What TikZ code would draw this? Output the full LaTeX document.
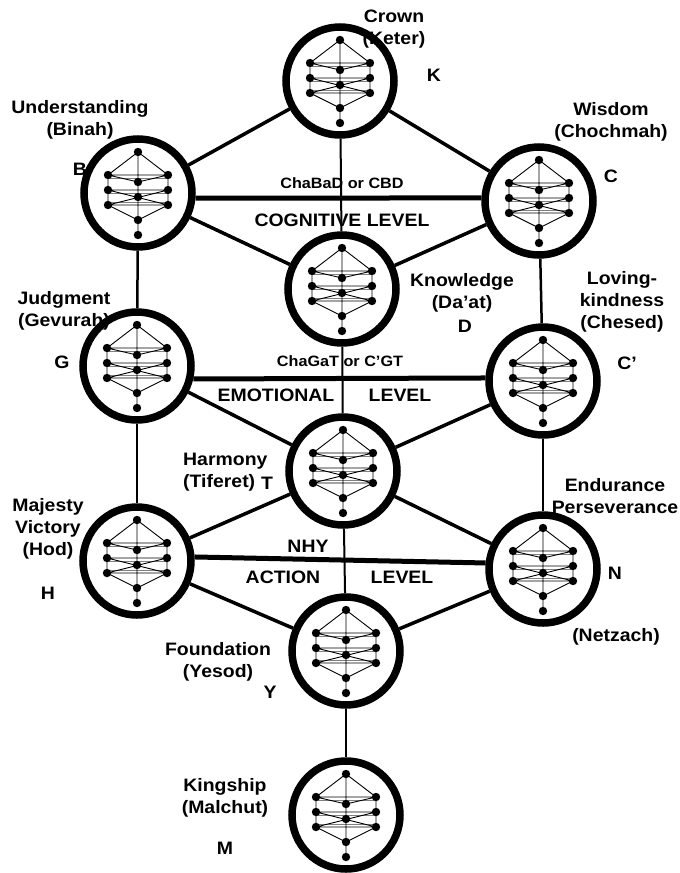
\documentclass[tikz,border=0pt]{standalone}
\usepackage{fontspec}
\setmainfont{Liberation Sans}[FakeStretch=1.08]

\tikzset{
  sefira/.style={circle, draw, line width=7.5pt, minimum size=108pt, inner sep=0pt},
  lbl/.style={font=\bfseries\fontsize{18}{22}\selectfont, align=center, inner sep=0pt},
  midlbl/.style={font=\bfseries\fontsize{15}{18}\selectfont, inner sep=0pt},
  level/.style={line width=5pt},
  channel/.style={line width=3.5pt},
  pillar/.style={line width=2.5pt},
  spine/.style={line width=2pt},
  minitree/.pic={
    \draw[line width=0.8pt, gray] (-30,-15) -- (30,-15) (-30,0) -- (30,0) (-30,9) -- (30,9);
    \draw[line width=0.9pt] (0,-41) -- (0,42)
      (0,-41) -- (-30,-18) -- (-30,12) -- (0,27) -- (30,12) -- (30,-18) -- cycle
      (-30,-18) -- (30,-18) (-30,-3) -- (30,-3) (-30,12) -- (30,12)
      (-30,-18) -- (0,-11) -- (30,-18)
      (-30,-3) -- (30,12) (30,-3) -- (-30,12);
    \foreach \p in {(0,-41),(-30,-18),(30,-18),(0,-11),(-30,-3),(30,-3),(0,4),(-30,12),(30,12),(0,27),(0,42)}
      \fill \p circle (4.2pt);
  }
}

\begin{document}
\begin{tikzpicture}[x=1pt,y=-1pt]
  \useasboundingbox (0,0) rectangle (680,873);
  % the ten (and Da'at)
  \node[sefira] at (340,81) (k) {};
  \node[sefira] at (138,193) (b) {};
  \node[sefira] at (539,201) (c) {};
  \node[sefira] at (342,289) (d) {};
  \node[sefira] at (137,366) (g) {};
  \node[sefira] at (543,381) (cp) {};
  \node[sefira] at (343,471) (t) {};
  \node[sefira] at (137,561) (h) {};
  \node[sefira] at (543,569) (n) {};
  \node[sefira] at (346,651) (y) {};
  \node[sefira] at (346,815) (m) {};
  \foreach \s in {k,b,c,d,g,cp,t,h,n,y,m}
    \pic at (\s) {minitree};

  % middle line
  \draw[spine] (k) -- (d);
  \draw[spine] (d) -- (t);
  \draw[spine] (t) -- (y);
  \draw[spine] (y) -- (m);
  % side lines
  \draw[pillar] (b) -- (g);
  \draw[pillar] (g) -- (h);
  \draw[pillar] (c) -- (cp);
  \draw[pillar] (cp) -- (n);
  % diagonals
  \draw[channel] (k) -- (b);
  \draw[channel] (k) -- (c);
  \draw[channel] (b) -- (d);
  \draw[channel] (c) -- (d);
  \draw[channel] (g) -- (t);
  \draw[channel] (cp) -- (t);
  \draw[channel] (h) -- (t);
  \draw[channel] (n) -- (t);
  \draw[channel] (h) -- (y);
  \draw[channel] (n) -- (y);
  % levels
  \draw[level] (b.-5) -- (c.177);
  \draw[level] (g.-13) -- (cp.177);
  \draw[level] (h.4) -- (n.174);

  % names
  \node[lbl] at (394,29) (crown) {Crown\\(Keter)};
  \node[lbl] at (434,75) (kk) {K};
  \node[lbl] at (80,120) (understanding) {Understanding\\(Binah)};
  \node[lbl] at (80,169) (bb) {B};
  \node[lbl] at (611,122) (wisdom) {Wisdom\\(Chochmah)};
  \node[lbl] at (611,176) (cc) {C};
  \node[midlbl] at (342,183) (chabad) {ChaBaD or CBD};
  \node[lbl] at (342,220) (cognitive) {COGNITIVE LEVEL};
  \node[lbl] at (462,293) (knowledge) {Knowledge\\(Da’at)};
  \node[lbl] at (465,326) (dd) {D};
  \node[lbl] at (64,311) (judgment) {Judgment\\(Gevurah)};
  \node[lbl] at (62,362) (gg) {G};
  \node[lbl] at (622,302) (loving) {Loving-\\kindness\\(Chesed)};
  \node[lbl] at (627,363) (ccp) {C’};
  \node[midlbl] at (340,361) (chagat) {ChaGaT or C’GT};
  \node[lbl] at (276,395) (emotional) {EMOTIONAL};
  \node[lbl] at (400,395) (level2) {LEVEL};
  \node[lbl, align=left, anchor=west] at (183,472) (harmony) {Harmony\\(Tiferet)};
  \node[lbl] at (267,483) (tt) {T};
  \node[lbl] at (48,529) (majesty) {Majesty\\Victory\\(Hod)};
  \node[lbl] at (48,593) (hh) {H};
  \node[lbl] at (308,546) (nhy) {NHY};
  \node[lbl] at (283,577) (action) {ACTION};
  \node[lbl] at (402,577) (level3) {LEVEL};
  \node[lbl] at (615,496) (endurance) {Endurance\\Perseverance};
  \node[lbl] at (615,573) (nn) {N};
  \node[lbl] at (616,637) (netzach) {(Netzach)};
  \node[lbl] at (218,662) (foundation) {Foundation\\(Yesod)};
  \node[lbl] at (270,692) (yy) {Y};
  \node[lbl] at (225,798) (kingship) {Kingship\\(Malchut)};
  \node[lbl] at (225,848) (mm) {M};
\end{tikzpicture}
\end{document}
